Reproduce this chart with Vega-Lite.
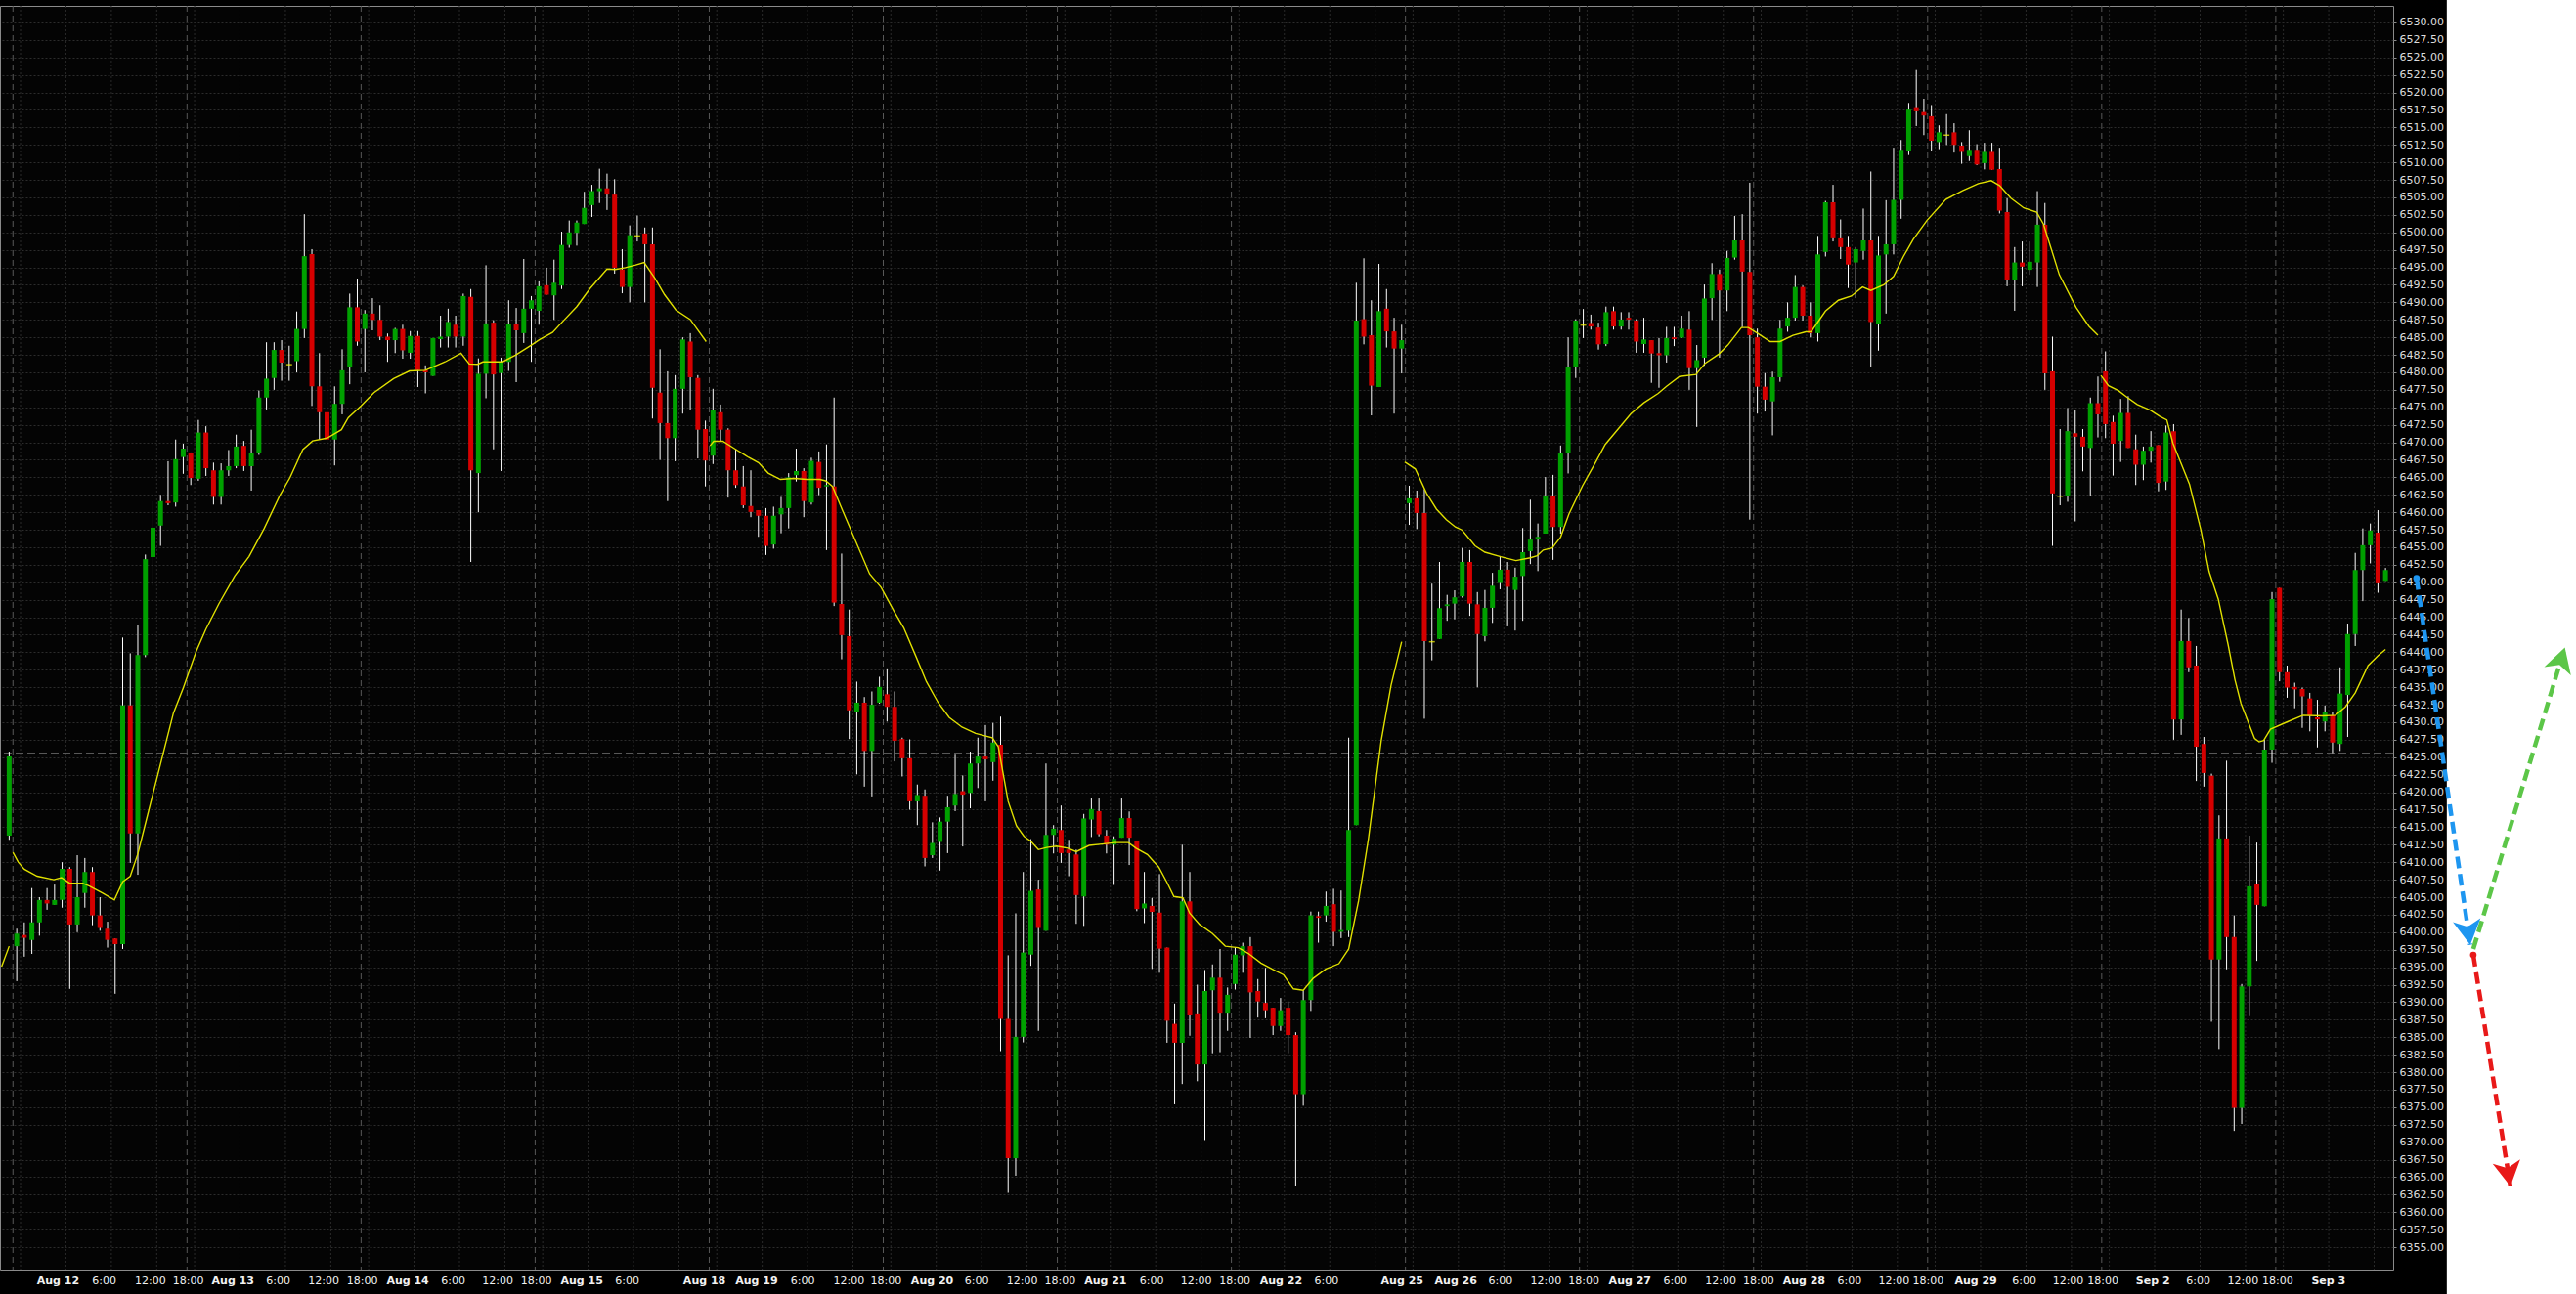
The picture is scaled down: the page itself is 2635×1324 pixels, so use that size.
{
"$schema": "https://vega.github.io/schema/vega-lite/v6.json",
"width": 2448, "height": 1293,
"autosize": {"type": "none"},
"padding": {"left": 0, "top": 6, "right": 187, "bottom": 25},
"background": "#000000",
"config": {"view": {"fill": "#040404", "stroke": "#8a8a8a", "strokeWidth": 1}, "axis": {"labelOverlap": false, "labelSeparation": 0}},
"datasets": {
"candles": [
{"i":0,"o":6413.8,"h":6425.8,"l":6413.2,"c":6425.1},
{"i":1,"o":6398.0,"h":6400.5,"l":6393.0,"c":6399.8},
{"i":2,"o":6399.6,"h":6401.4,"l":6396.5,"c":6399.2},
{"i":3,"o":6398.9,"h":6406.3,"l":6396.9,"c":6401.4},
{"i":4,"o":6401.4,"h":6405.0,"l":6399.5,"c":6404.6},
{"i":5,"o":6404.6,"h":6406.3,"l":6403.2,"c":6404.1},
{"i":6,"o":6403.9,"h":6406.8,"l":6403.9,"c":6404.6},
{"i":7,"o":6404.6,"h":6410.0,"l":6403.5,"c":6409.05},
{"i":8,"o":6409.05,"h":6409.3,"l":6391.9,"c":6401.1},
{"i":9,"o":6401.1,"h":6411.0,"l":6400.0,"c":6405.0},
{"i":10,"o":6405.6,"h":6410.6,"l":6403.5,"c":6408.6},
{"i":11,"o":6408.6,"h":6409.3,"l":6401.0,"c":6402.4},
{"i":12,"o":6402.4,"h":6405.0,"l":6400.2,"c":6400.6},
{"i":13,"o":6400.5,"h":6401.5,"l":6397.8,"c":6398.9},
{"i":14,"o":6399.1,"h":6399.1,"l":6391.2,"c":6398.3},
{"i":15,"o":6398.3,"h":6442.1,"l":6397.6,"c":6432.4},
{"i":16,"o":6432.4,"h":6439.85,"l":6409.9,"c":6414.1},
{"i":17,"o":6414.1,"h":6443.9,"l":6408.2,"c":6439.6},
{"i":18,"o":6439.6,"h":6453.96,"l":6439.3,"c":6453.3},
{"i":19,"o":6453.6,"h":6461.6,"l":6449.5,"c":6457.8},
{"i":20,"o":6458.1,"h":6462.5,"l":6455.2,"c":6461.6},
{"i":21,"o":6461.6,"h":6467.3,"l":6461.0,"c":6461.3},
{"i":22,"o":6461.4,"h":6470.4,"l":6460.8,"c":6467.6},
{"i":23,"o":6467.9,"h":6469.8,"l":6465.5,"c":6469.1},
{"i":24,"o":6468.55,"h":6468.55,"l":6463.9,"c":6464.9},
{"i":25,"o":6464.8,"h":6473.2,"l":6464.5,"c":6471.4},
{"i":26,"o":6471.4,"h":6472.3,"l":6465.2,"c":6466.3},
{"i":27,"o":6466.0,"h":6467.1,"l":6461.1,"c":6462.2},
{"i":28,"o":6462.2,"h":6467.0,"l":6461.1,"c":6466.0},
{"i":29,"o":6466.0,"h":6468.9,"l":6465.2,"c":6466.6},
{"i":30,"o":6466.6,"h":6471.1,"l":6466.3,"c":6469.4},
{"i":31,"o":6469.5,"h":6470.2,"l":6465.9,"c":6466.6},
{"i":32,"o":6466.6,"h":6471.8,"l":6463.1,"c":6468.55},
{"i":33,"o":6468.55,"h":6477.4,"l":6468.2,"c":6476.4},
{"i":34,"o":6476.4,"h":6484.3,"l":6474.7,"c":6479.1},
{"i":35,"o":6479.2,"h":6484.3,"l":6477.5,"c":6483.2},
{"i":36,"o":6483.2,"h":6484.6,"l":6478.8,"c":6481.4},
{"i":37,"o":6481.1,"h":6483.8,"l":6478.8,"c":6481.1},
{"i":38,"o":6481.6,"h":6488.7,"l":6480.0,"c":6486.2},
{"i":39,"o":6486.2,"h":6502.6,"l":6484.9,"c":6496.6},
{"i":40,"o":6496.9,"h":6497.6,"l":6475.2,"c":6478.0},
{"i":41,"o":6478.0,"h":6482.75,"l":6470.4,"c":6474.3},
{"i":42,"o":6474.3,"h":6479.3,"l":6466.7,"c":6470.4},
{"i":43,"o":6470.4,"h":6478.0,"l":6466.7,"c":6475.5},
{"i":44,"o":6475.5,"h":6483.3,"l":6474.0,"c":6480.3},
{"i":45,"o":6480.7,"h":6491.25,"l":6478.3,"c":6489.3},
{"i":46,"o":6489.3,"h":6493.4,"l":6483.8,"c":6484.4},
{"i":47,"o":6486.2,"h":6488.9,"l":6480.0,"c":6488.4},
{"i":48,"o":6488.4,"h":6490.6,"l":6486.0,"c":6487.5},
{"i":49,"o":6487.5,"h":6489.6,"l":6484.6,"c":6485.1},
{"i":50,"o":6485.1,"h":6485.55,"l":6481.5,"c":6484.6},
{"i":51,"o":6484.6,"h":6486.35,"l":6482.75,"c":6486.2},
{"i":52,"o":6486.2,"h":6486.8,"l":6481.95,"c":6483.15},
{"i":53,"o":6482.8,"h":6485.9,"l":6481.95,"c":6485.2},
{"i":54,"o":6485.2,"h":6485.9,"l":6477.9,"c":6480.3},
{"i":55,"o":6480.3,"h":6481.0,"l":6477.0,"c":6480.0},
{"i":56,"o":6479.5,"h":6484.9,"l":6479.5,"c":6484.9},
{"i":57,"o":6484.75,"h":6488.1,"l":6483.55,"c":6485.1},
{"i":58,"o":6485.1,"h":6489.1,"l":6483.55,"c":6487.2},
{"i":59,"o":6486.8,"h":6488.1,"l":6483.55,"c":6485.1},
{"i":60,"o":6485.1,"h":6491.25,"l":6483.8,"c":6490.9},
{"i":61,"o":6490.8,"h":6491.9,"l":6452.9,"c":6466.0},
{"i":62,"o":6465.6,"h":6482.0,"l":6460.0,"c":6479.8},
{"i":63,"o":6479.8,"h":6495.3,"l":6476.3,"c":6487.0},
{"i":64,"o":6487.1,"h":6487.45,"l":6469.0,"c":6479.7},
{"i":65,"o":6479.9,"h":6482.1,"l":6465.9,"c":6481.5},
{"i":66,"o":6481.5,"h":6490.3,"l":6480.2,"c":6486.9},
{"i":67,"o":6486.9,"h":6489.2,"l":6478.6,"c":6486.0},
{"i":68,"o":6485.6,"h":6496.2,"l":6484.2,"c":6489.1},
{"i":69,"o":6489.1,"h":6490.9,"l":6481.5,"c":6490.3},
{"i":70,"o":6488.8,"h":6493.0,"l":6486.8,"c":6492.3},
{"i":71,"o":6492.45,"h":6494.95,"l":6491.1,"c":6491.1},
{"i":72,"o":6491.0,"h":6496.1,"l":6487.5,"c":6492.8},
{"i":73,"o":6492.4,"h":6500.1,"l":6491.9,"c":6498.2},
{"i":74,"o":6498.2,"h":6501.7,"l":6497.8,"c":6500.0},
{"i":75,"o":6499.95,"h":6501.7,"l":6498.1,"c":6501.4},
{"i":76,"o":6501.2,"h":6505.8,"l":6501.2,"c":6503.5},
{"i":77,"o":6503.9,"h":6506.8,"l":6502.2,"c":6505.9},
{"i":78,"o":6505.9,"h":6509.1,"l":6504.2,"c":6506.3},
{"i":79,"o":6506.3,"h":6508.4,"l":6503.2,"c":6505.4},
{"i":80,"o":6505.4,"h":6507.6,"l":6494.1,"c":6494.95},
{"i":81,"o":6494.7,"h":6497.6,"l":6491.3,"c":6492.2},
{"i":82,"o":6492.2,"h":6501.0,"l":6490.0,"c":6499.6},
{"i":83,"o":6499.5,"h":6502.4,"l":6498.7,"c":6499.5},
{"i":84,"o":6499.85,"h":6500.7,"l":6490.0,"c":6498.3},
{"i":85,"o":6498.3,"h":6500.7,"l":6473.4,"c":6477.8},
{"i":86,"o":6477.1,"h":6483.3,"l":6467.5,"c":6472.75},
{"i":87,"o":6472.75,"h":6480.15,"l":6461.6,"c":6470.6},
{"i":88,"o":6470.6,"h":6479.6,"l":6467.3,"c":6477.65},
{"i":89,"o":6477.65,"h":6485.0,"l":6474.1,"c":6484.7},
{"i":90,"o":6484.4,"h":6485.6,"l":6474.6,"c":6479.3},
{"i":91,"o":6479.2,"h":6479.6,"l":6467.7,"c":6471.8},
{"i":92,"o":6471.9,"h":6473.1,"l":6463.7,"c":6467.4},
{"i":93,"o":6468.1,"h":6477.65,"l":6466.9,"c":6474.6},
{"i":94,"o":6474.3,"h":6475.4,"l":6470.2,"c":6471.8},
{"i":95,"o":6471.8,"h":6472.0,"l":6462.1,"c":6466.0},
{"i":96,"o":6466.0,"h":6469.0,"l":6463.5,"c":6463.9},
{"i":97,"o":6463.7,"h":6466.6,"l":6460.6,"c":6461.0},
{"i":98,"o":6460.9,"h":6466.0,"l":6459.3,"c":6460.05},
{"i":99,"o":6460.3,"h":6460.3,"l":6456.5,"c":6459.5},
{"i":100,"o":6459.5,"h":6460.6,"l":6453.9,"c":6455.2},
{"i":101,"o":6455.4,"h":6460.8,"l":6454.8,"c":6459.5},
{"i":102,"o":6459.7,"h":6462.2,"l":6457.0,"c":6460.6},
{"i":103,"o":6460.6,"h":6465.6,"l":6457.7,"c":6465.0},
{"i":104,"o":6465.3,"h":6469.1,"l":6464.4,"c":6465.9},
{"i":105,"o":6465.9,"h":6466.3,"l":6459.3,"c":6461.6},
{"i":106,"o":6461.4,"h":6467.8,"l":6461.1,"c":6467.35},
{"i":107,"o":6467.2,"h":6468.7,"l":6462.45,"c":6463.5},
{"i":108,"o":6463.7,"h":6469.7,"l":6454.6,"c":6463.9},
{"i":109,"o":6463.7,"h":6476.4,"l":6446.6,"c":6447.1},
{"i":110,"o":6446.9,"h":6454.1,"l":6439.0,"c":6442.45},
{"i":111,"o":6442.3,"h":6446.1,"l":6427.6,"c":6431.7},
{"i":112,"o":6431.5,"h":6435.8,"l":6422.55,"c":6432.8},
{"i":113,"o":6432.8,"h":6433.6,"l":6420.8,"c":6425.9},
{"i":114,"o":6425.9,"h":6434.4,"l":6419.4,"c":6432.5},
{"i":115,"o":6432.8,"h":6436.5,"l":6432.65,"c":6435.05},
{"i":116,"o":6434.0,"h":6437.7,"l":6430.1,"c":6432.2},
{"i":117,"o":6432.2,"h":6434.4,"l":6424.4,"c":6427.35},
{"i":118,"o":6427.6,"h":6427.8,"l":6422.25,"c":6424.85},
{"i":119,"o":6424.85,"h":6427.55,"l":6417.5,"c":6418.7},
{"i":120,"o":6418.7,"h":6421.1,"l":6415.3,"c":6419.6},
{"i":121,"o":6419.5,"h":6420.4,"l":6409.4,"c":6410.6},
{"i":122,"o":6411.0,"h":6415.7,"l":6410.6,"c":6412.75},
{"i":123,"o":6412.9,"h":6416.4,"l":6408.8,"c":6415.8},
{"i":124,"o":6415.8,"h":6419.5,"l":6411.3,"c":6417.85},
{"i":125,"o":6418.1,"h":6425.5,"l":6417.3,"c":6419.75},
{"i":126,"o":6420.15,"h":6422.4,"l":6412.25,"c":6419.65},
{"i":127,"o":6419.9,"h":6425.8,"l":6417.7,"c":6424.1},
{"i":128,"o":6424.1,"h":6427.8,"l":6420.6,"c":6425.1},
{"i":129,"o":6425.1,"h":6429.6,"l":6418.7,"c":6424.7},
{"i":130,"o":6424.3,"h":6429.9,"l":6421.65,"c":6427.1},
{"i":131,"o":6426.8,"h":6430.8,"l":6383.0,"c":6387.6},
{"i":132,"o":6387.6,"h":6396.7,"l":6362.75,"c":6367.7},
{"i":133,"o":6367.7,"h":6402.7,"l":6365.2,"c":6385.05},
{"i":134,"o":6385.05,"h":6408.6,"l":6384.25,"c":6397.1},
{"i":135,"o":6396.8,"h":6413.3,"l":6395.2,"c":6405.9},
{"i":136,"o":6406.1,"h":6407.5,"l":6385.9,"c":6400.6},
{"i":137,"o":6400.2,"h":6424.1,"l":6400.2,"c":6413.9},
{"i":138,"o":6413.9,"h":6415.3,"l":6411.25,"c":6414.8},
{"i":139,"o":6414.6,"h":6418.1,"l":6409.9,"c":6411.3},
{"i":140,"o":6411.8,"h":6413.2,"l":6408.0,"c":6411.3},
{"i":141,"o":6411.1,"h":6411.8,"l":6401.2,"c":6405.3},
{"i":142,"o":6405.1,"h":6416.9,"l":6400.9,"c":6416.25},
{"i":143,"o":6416.1,"h":6419.1,"l":6413.6,"c":6417.6},
{"i":144,"o":6417.3,"h":6419.1,"l":6413.7,"c":6414.0},
{"i":145,"o":6413.8,"h":6414.6,"l":6411.25,"c":6412.5},
{"i":146,"o":6412.5,"h":6413.7,"l":6406.75,"c":6413.35},
{"i":147,"o":6413.5,"h":6419.1,"l":6413.5,"c":6416.3},
{"i":148,"o":6416.3,"h":6417.25,"l":6409.6,"c":6413.5},
{"i":149,"o":6413.1,"h":6413.1,"l":6403.0,"c":6403.3},
{"i":150,"o":6403.4,"h":6408.6,"l":6401.3,"c":6404.1},
{"i":151,"o":6403.75,"h":6404.9,"l":6394.75,"c":6402.9},
{"i":152,"o":6402.8,"h":6408.3,"l":6394.2,"c":6397.65},
{"i":153,"o":6397.8,"h":6397.8,"l":6384.2,"c":6387.35},
{"i":154,"o":6386.9,"h":6389.8,"l":6375.4,"c":6384.2},
{"i":155,"o":6384.2,"h":6412.5,"l":6378.3,"c":6404.4},
{"i":156,"o":6404.4,"h":6408.6,"l":6385.2,"c":6388.1},
{"i":157,"o":6388.4,"h":6392.5,"l":6378.7,"c":6381.1},
{"i":158,"o":6381.1,"h":6394.6,"l":6370.3,"c":6391.6},
{"i":159,"o":6391.7,"h":6395.4,"l":6382.7,"c":6393.5},
{"i":160,"o":6393.5,"h":6397.6,"l":6382.85,"c":6388.5},
{"i":161,"o":6388.5,"h":6392.1,"l":6385.9,"c":6391.05},
{"i":162,"o":6392.6,"h":6397.8,"l":6391.8,"c":6396.8},
{"i":163,"o":6396.7,"h":6398.5,"l":6394.2,"c":6398.0},
{"i":164,"o":6398.0,"h":6399.3,"l":6384.9,"c":6391.4},
{"i":165,"o":6391.6,"h":6393.3,"l":6387.8,"c":6390.1},
{"i":166,"o":6389.9,"h":6394.9,"l":6387.7,"c":6388.85},
{"i":167,"o":6389.2,"h":6389.2,"l":6385.3,"c":6386.6},
{"i":168,"o":6386.6,"h":6390.6,"l":6385.9,"c":6388.85},
{"i":169,"o":6389.2,"h":6390.1,"l":6382.7,"c":6385.3},
{"i":170,"o":6385.3,"h":6385.7,"l":6363.8,"c":6376.85},
{"i":171,"o":6376.85,"h":6391.7,"l":6375.2,"c":6390.3},
{"i":172,"o":6390.3,"h":6402.95,"l":6388.75,"c":6402.4},
{"i":173,"o":6402.3,"h":6402.95,"l":6398.5,"c":6402.05},
{"i":174,"o":6402.4,"h":6405.8,"l":6401.5,"c":6403.75},
{"i":175,"o":6404.0,"h":6406.2,"l":6398.0,"c":6400.05},
{"i":176,"o":6400.05,"h":6405.95,"l":6399.15,"c":6400.3},
{"i":177,"o":6400.2,"h":6427.8,"l":6399.3,"c":6414.6},
{"i":178,"o":6415.3,"h":6492.8,"l":6415.3,"c":6487.4},
{"i":179,"o":6487.6,"h":6496.3,"l":6484.0,"c":6485.1},
{"i":180,"o":6485.3,"h":6490.3,"l":6473.85,"c":6478.1},
{"i":181,"o":6477.9,"h":6495.5,"l":6477.9,"c":6488.75},
{"i":182,"o":6489.1,"h":6491.9,"l":6483.55,"c":6485.85},
{"i":183,"o":6485.85,"h":6487.8,"l":6474.1,"c":6483.4},
{"i":184,"o":6483.4,"h":6486.8,"l":6479.85,"c":6484.6},
{"i":185,"o":6461.3,"h":6463.8,"l":6458.2,"c":6462.0},
{"i":186,"o":6462.0,"h":6463.1,"l":6457.6,"c":6459.9},
{"i":187,"o":6459.9,"h":6463.3,"l":6430.5,"c":6441.6},
{"i":188,"o":6441.5,"h":6449.8,"l":6438.85,"c":6441.5},
{"i":189,"o":6441.9,"h":6452.9,"l":6441.9,"c":6446.3},
{"i":190,"o":6446.6,"h":6448.2,"l":6444.5,"c":6446.85},
{"i":191,"o":6446.95,"h":6448.85,"l":6444.7,"c":6447.85},
{"i":192,"o":6448.0,"h":6454.9,"l":6447.8,"c":6452.9},
{"i":193,"o":6452.9,"h":6454.6,"l":6445.2,"c":6446.95},
{"i":194,"o":6446.85,"h":6448.6,"l":6435.0,"c":6442.6},
{"i":195,"o":6442.3,"h":6448.9,"l":6441.55,"c":6446.35},
{"i":196,"o":6446.35,"h":6451.35,"l":6444.2,"c":6449.5},
{"i":197,"o":6449.9,"h":6453.7,"l":6449.0,"c":6451.8},
{"i":198,"o":6451.8,"h":6452.9,"l":6443.7,"c":6449.35},
{"i":199,"o":6448.9,"h":6452.1,"l":6443.1,"c":6450.8},
{"i":200,"o":6450.9,"h":6457.75,"l":6444.5,"c":6454.3},
{"i":201,"o":6454.45,"h":6461.8,"l":6452.6,"c":6456.1},
{"i":202,"o":6456.1,"h":6458.4,"l":6451.6,"c":6456.5},
{"i":203,"o":6456.95,"h":6465.05,"l":6456.95,"c":6462.4},
{"i":204,"o":6462.4,"h":6465.35,"l":6453.2,"c":6457.9},
{"i":205,"o":6457.9,"h":6469.55,"l":6456.95,"c":6468.4},
{"i":206,"o":6468.4,"h":6485.0,"l":6465.55,"c":6480.8},
{"i":207,"o":6480.8,"h":6487.6,"l":6479.2,"c":6487.4},
{"i":208,"o":6486.75,"h":6489.05,"l":6484.9,"c":6486.75},
{"i":209,"o":6487.05,"h":6488.25,"l":6486.1,"c":6486.55},
{"i":210,"o":6486.4,"h":6487.1,"l":6483.25,"c":6484.0},
{"i":211,"o":6484.05,"h":6489.4,"l":6483.75,"c":6488.6},
{"i":212,"o":6488.75,"h":6489.4,"l":6486.1,"c":6486.55},
{"i":213,"o":6486.55,"h":6488.6,"l":6486.1,"c":6487.55},
{"i":214,"o":6487.8,"h":6488.6,"l":6486.1,"c":6487.55},
{"i":215,"o":6487.4,"h":6487.6,"l":6482.8,"c":6484.4},
{"i":216,"o":6484.05,"h":6487.8,"l":6482.8,"c":6484.7},
{"i":217,"o":6484.6,"h":6484.6,"l":6478.5,"c":6482.7},
{"i":218,"o":6482.75,"h":6484.9,"l":6477.8,"c":6482.45},
{"i":219,"o":6482.45,"h":6486.5,"l":6481.4,"c":6484.9},
{"i":220,"o":6485.0,"h":6486.5,"l":6483.75,"c":6484.75},
{"i":221,"o":6484.95,"h":6488.1,"l":6484.9,"c":6486.25},
{"i":222,"o":6486.1,"h":6488.75,"l":6477.5,"c":6480.6},
{"i":223,"o":6480.6,"h":6483.9,"l":6472.2,"c":6481.75},
{"i":224,"o":6482.1,"h":6492.55,"l":6480.95,"c":6490.55},
{"i":225,"o":6490.6,"h":6495.6,"l":6487.5,"c":6494.05},
{"i":226,"o":6494.05,"h":6494.7,"l":6482.1,"c":6491.7},
{"i":227,"o":6491.7,"h":6497.35,"l":6488.75,"c":6496.35},
{"i":228,"o":6496.4,"h":6502.35,"l":6496.1,"c":6498.85},
{"i":229,"o":6498.85,"h":6502.6,"l":6486.45,"c":6494.4},
{"i":230,"o":6494.35,"h":6507.1,"l":6458.95,"c":6485.3},
{"i":231,"o":6485.0,"h":6486.25,"l":6474.1,"c":6477.95},
{"i":232,"o":6477.95,"h":6479.9,"l":6474.4,"c":6476.1},
{"i":233,"o":6475.85,"h":6480.1,"l":6471.0,"c":6479.3},
{"i":234,"o":6479.3,"h":6487.5,"l":6478.65,"c":6486.25},
{"i":235,"o":6486.55,"h":6490.0,"l":6485.8,"c":6487.8},
{"i":236,"o":6487.8,"h":6493.9,"l":6487.4,"c":6492.2},
{"i":237,"o":6492.2,"h":6492.4,"l":6487.4,"c":6488.1},
{"i":238,"o":6488.1,"h":6490.0,"l":6485.0,"c":6485.6},
{"i":239,"o":6485.6,"h":6499.5,"l":6484.4,"c":6496.85},
{"i":240,"o":6497.2,"h":6504.5,"l":6496.55,"c":6504.3},
{"i":241,"o":6504.3,"h":6506.8,"l":6498.7,"c":6499.15},
{"i":242,"o":6499.15,"h":6501.85,"l":6496.2,"c":6497.9},
{"i":243,"o":6497.9,"h":6499.5,"l":6492.05,"c":6495.4},
{"i":244,"o":6495.7,"h":6497.9,"l":6490.6,"c":6497.6},
{"i":245,"o":6497.35,"h":6503.4,"l":6496.1,"c":6498.85},
{"i":246,"o":6498.85,"h":6508.7,"l":6480.8,"c":6487.2},
{"i":247,"o":6486.9,"h":6499.5,"l":6483.1,"c":6496.7},
{"i":248,"o":6496.85,"h":6504.6,"l":6488.4,"c":6498.3},
{"i":249,"o":6498.3,"h":6512.1,"l":6496.85,"c":6504.65},
{"i":250,"o":6504.65,"h":6513.2,"l":6501.95,"c":6511.8},
{"i":251,"o":6511.6,"h":6518.5,"l":6511.05,"c":6517.55},
{"i":252,"o":6517.9,"h":6523.2,"l":6515.2,"c":6517.3},
{"i":253,"o":6517.2,"h":6519.1,"l":6513.9,"c":6516.7},
{"i":254,"o":6516.6,"h":6518.2,"l":6511.6,"c":6513.1},
{"i":255,"o":6512.9,"h":6515.3,"l":6511.9,"c":6514.3},
{"i":256,"o":6513.9,"h":6516.9,"l":6512.5,"c":6513.9},
{"i":257,"o":6514.3,"h":6515.6,"l":6511.4,"c":6512.5},
{"i":258,"o":6512.4,"h":6512.9,"l":6509.8,"c":6511.5},
{"i":259,"o":6510.9,"h":6514.6,"l":6510.2,"c":6511.8},
{"i":260,"o":6511.8,"h":6512.6,"l":6509.6,"c":6509.7},
{"i":261,"o":6509.9,"h":6512.8,"l":6509.0,"c":6511.5},
{"i":262,"o":6511.5,"h":6512.8,"l":6508.95,"c":6508.95},
{"i":263,"o":6509.05,"h":6512.1,"l":6502.7,"c":6503.1},
{"i":264,"o":6502.9,"h":6504.9,"l":6492.3,"c":6493.2},
{"i":265,"o":6493.2,"h":6497.9,"l":6488.8,"c":6495.7},
{"i":266,"o":6495.7,"h":6498.7,"l":6492.3,"c":6495.1},
{"i":267,"o":6494.65,"h":6498.7,"l":6493.95,"c":6495.8},
{"i":268,"o":6495.7,"h":6505.9,"l":6492.2,"c":6501.1},
{"i":269,"o":6501.1,"h":6504.2,"l":6477.5,"c":6479.85},
{"i":270,"o":6480.15,"h":6485.1,"l":6455.2,"c":6462.7},
{"i":271,"o":6462.3,"h":6471.9,"l":6461.0,"c":6462.3},
{"i":272,"o":6462.3,"h":6474.9,"l":6461.5,"c":6471.6},
{"i":273,"o":6471.3,"h":6474.6,"l":6458.7,"c":6470.8},
{"i":274,"o":6470.8,"h":6471.9,"l":6465.85,"c":6469.4},
{"i":275,"o":6469.2,"h":6476.4,"l":6462.4,"c":6475.6},
{"i":276,"o":6475.6,"h":6479.4,"l":6470.7,"c":6474.0},
{"i":277,"o":6480.15,"h":6483.0,"l":6470.6,"c":6472.6},
{"i":278,"o":6472.9,"h":6473.8,"l":6465.25,"c":6469.8},
{"i":279,"o":6470.2,"h":6476.2,"l":6467.2,"c":6474.2},
{"i":280,"o":6474.2,"h":6476.6,"l":6469.2,"c":6469.2},
{"i":281,"o":6469.0,"h":6471.1,"l":6463.9,"c":6466.8},
{"i":282,"o":6466.8,"h":6469.4,"l":6464.6,"c":6468.8},
{"i":283,"o":6468.8,"h":6471.6,"l":6467.1,"c":6469.4},
{"i":284,"o":6469.6,"h":6469.6,"l":6463.0,"c":6464.2},
{"i":285,"o":6464.4,"h":6472.4,"l":6463.2,"c":6471.4},
{"i":286,"o":6471.6,"h":6472.6,"l":6427.5,"c":6430.4},
{"i":287,"o":6430.4,"h":6446.1,"l":6428.2,"c":6441.6},
{"i":288,"o":6441.6,"h":6444.9,"l":6437.15,"c":6437.85},
{"i":289,"o":6438.1,"h":6440.9,"l":6421.6,"c":6426.5},
{"i":290,"o":6426.9,"h":6427.9,"l":6420.8,"c":6422.75},
{"i":291,"o":6422.35,"h":6422.65,"l":6387.2,"c":6396.1},
{"i":292,"o":6396.1,"h":6416.7,"l":6383.3,"c":6413.4},
{"i":293,"o":6413.4,"h":6424.5,"l":6394.7,"c":6399.3},
{"i":294,"o":6399.3,"h":6402.4,"l":6371.6,"c":6374.9},
{"i":295,"o":6374.9,"h":6392.6,"l":6372.6,"c":6392.25},
{"i":296,"o":6392.25,"h":6413.8,"l":6388.0,"c":6406.55},
{"i":297,"o":6406.85,"h":6412.8,"l":6395.9,"c":6403.9},
{"i":298,"o":6403.7,"h":6427.5,"l":6403.7,"c":6426.1},
{"i":299,"o":6426.1,"h":6448.6,"l":6424.2,"c":6447.6},
{"i":300,"o":6449.2,"h":6449.2,"l":6435.85,"c":6437.15},
{"i":301,"o":6437.15,"h":6438.1,"l":6433.5,"c":6434.95},
{"i":302,"o":6435.05,"h":6435.65,"l":6432.0,"c":6434.7},
{"i":303,"o":6434.75,"h":6434.95,"l":6429.2,"c":6433.7},
{"i":304,"o":6433.4,"h":6434.2,"l":6428.7,"c":6430.9},
{"i":305,"o":6430.7,"h":6433.2,"l":6426.4,"c":6430.4},
{"i":306,"o":6430.1,"h":6432.4,"l":6428.7,"c":6431.4},
{"i":307,"o":6431.0,"h":6431.4,"l":6425.6,"c":6427.1},
{"i":308,"o":6426.9,"h":6437.85,"l":6425.9,"c":6434.1},
{"i":309,"o":6433.9,"h":6444.1,"l":6427.9,"c":6442.6},
{"i":310,"o":6442.6,"h":6454.2,"l":6440.9,"c":6451.75},
{"i":311,"o":6451.75,"h":6457.7,"l":6447.3,"c":6455.3},
{"i":312,"o":6455.3,"h":6458.4,"l":6452.7,"c":6457.4},
{"i":313,"o":6457.1,"h":6460.3,"l":6448.5,"c":6449.85},
{"i":314,"o":6450.2,"h":6452.05,"l":6450.2,"c":6451.75}
],
"ma": [
{"s":"A","i":-1,"v":6395.1},{"s":"A","i":0,"v":6398.0},
{"s":"B","i":0.5,"v":6411.4},{"s":"B","i":1.2,"v":6410.0},{"s":"B","i":2.0,"v":6409.0},{"s":"B","i":3.7,"v":6408.0},{"s":"B","i":5.9,"v":6407.5},{"s":"B","i":6.9,"v":6407.8},{"s":"B","i":8.0,"v":6407.0},{"s":"B","i":9.7,"v":6407.0},{"s":"B","i":10.6,"v":6406.6},{"s":"B","i":12.3,"v":6405.6},{"s":"B","i":13.9,"v":6404.6},{"s":"B","i":15.0,"v":6407.2},{"s":"B","i":16.0,"v":6408.0},{"s":"B","i":17.0,"v":6411.2},{"s":"B","i":18.3,"v":6416.8},{"s":"B","i":20.0,"v":6424.05},{"s":"B","i":21.7,"v":6431.3},{"s":"B","i":23.0,"v":6434.9},{"s":"B","i":24.7,"v":6440.1},{"s":"B","i":26.0,"v":6443.3},{"s":"B","i":27.7,"v":6446.9},{"s":"B","i":29.8,"v":6450.9},{"s":"B","i":31.7,"v":6453.7},{"s":"B","i":33.7,"v":6457.7},{"s":"B","i":35.8,"v":6462.5},{"s":"B","i":37.1,"v":6464.95},{"s":"B","i":38.8,"v":6468.96},{"s":"B","i":40.1,"v":6470.2},{"s":"B","i":42.0,"v":6470.6},{"s":"B","i":43.9,"v":6471.8},{"s":"B","i":44.8,"v":6473.5},{"s":"B","i":46.5,"v":6475.2},{"s":"B","i":48.2,"v":6477.1},{"s":"B","i":50.8,"v":6479.1},{"s":"B","i":52.9,"v":6480.2},{"s":"B","i":55.0,"v":6480.3},{"s":"B","i":57.6,"v":6481.5},{"s":"B","i":59.7,"v":6482.75},{"s":"B","i":60.8,"v":6481.2},{"s":"B","i":61.9,"v":6481.15},{"s":"B","i":62.6,"v":6481.5},{"s":"B","i":65.2,"v":6481.5},{"s":"B","i":66.9,"v":6482.45},{"s":"B","i":69.0,"v":6483.9},{"s":"B","i":70.1,"v":6484.7},{"s":"B","i":71.8,"v":6485.7},{"s":"B","i":73.3,"v":6487.45},{"s":"B","i":75.0,"v":6489.4},{"s":"B","i":76.7,"v":6491.9},{"s":"B","i":79.0,"v":6494.76},{"s":"B","i":80.1,"v":6494.7},{"s":"B","i":81.4,"v":6494.95},{"s":"B","i":82.7,"v":6495.3},{"s":"B","i":83.9,"v":6495.7},{"s":"B","i":85.3,"v":6493.5},{"s":"B","i":86.6,"v":6491.1},{"s":"B","i":88.1,"v":6488.9},{"s":"B","i":90.0,"v":6487.55},{"s":"B","i":92.1,"v":6484.4},
{"s":"C","i":92.6,"v":6469.5},{"s":"C","i":93.1,"v":6470.15},{"s":"C","i":94.3,"v":6470.15},{"s":"C","i":96.0,"v":6469.0},{"s":"C","i":97.7,"v":6467.85},{"s":"C","i":99.0,"v":6467.1},{"s":"C","i":100.3,"v":6465.6},{"s":"C","i":101.9,"v":6464.7},{"s":"C","i":103.7,"v":6464.85},{"s":"C","i":105.4,"v":6464.7},{"s":"C","i":107.1,"v":6464.7},{"s":"C","i":107.9,"v":6464.5},{"s":"C","i":108.8,"v":6463.7},{"s":"C","i":110.1,"v":6460.3},{"s":"C","i":111.8,"v":6456.0},{"s":"C","i":113.7,"v":6451.2},{"s":"C","i":115.2,"v":6449.3},{"s":"C","i":116.9,"v":6445.9},{"s":"C","i":118.2,"v":6443.5},{"s":"C","i":119.9,"v":6439.2},{"s":"C","i":121.2,"v":6435.8},{"s":"C","i":122.7,"v":6432.9},{"s":"C","i":124.2,"v":6430.7},{"s":"C","i":125.9,"v":6429.3},{"s":"C","i":127.7,"v":6428.4},{"s":"C","i":129.9,"v":6427.8},{"s":"C","i":130.7,"v":6426.5},{"s":"C","i":132.0,"v":6418.7},{"s":"C","i":133.1,"v":6415.2},{"s":"C","i":134.1,"v":6413.7},{"s":"C","i":135.0,"v":6413.0},{"s":"C","i":136.0,"v":6411.8},{"s":"C","i":137.1,"v":6412.1},{"s":"C","i":138.4,"v":6412.3},{"s":"C","i":139.9,"v":6412.0},{"s":"C","i":141.0,"v":6411.5},{"s":"C","i":142.7,"v":6412.4},{"s":"C","i":144.4,"v":6412.6},{"s":"C","i":146.1,"v":6412.8},{"s":"C","i":147.9,"v":6412.8},{"s":"C","i":148.9,"v":6412.0},{"s":"C","i":150.4,"v":6411.1},{"s":"C","i":151.9,"v":6409.3},{"s":"C","i":153.0,"v":6407.1},{"s":"C","i":153.9,"v":6405.1},{"s":"C","i":155.1,"v":6404.9},{"s":"C","i":156.0,"v":6402.7},{"s":"C","i":157.3,"v":6401.1},{"s":"C","i":159.0,"v":6399.8},{"s":"C","i":160.7,"v":6398.0},{"s":"C","i":162.4,"v":6397.8},{"s":"C","i":163.7,"v":6397.0},{"s":"C","i":165.4,"v":6395.6},{"s":"C","i":167.1,"v":6394.6},{"s":"C","i":168.4,"v":6393.9},{"s":"C","i":169.7,"v":6391.9},{"s":"C","i":171.0,"v":6391.7},{"s":"C","i":172.3,"v":6393.4},{"s":"C","i":174.0,"v":6394.75},{"s":"C","i":175.7,"v":6395.5},{"s":"C","i":177.0,"v":6397.6},{"s":"C","i":178.3,"v":6404.45},{"s":"C","i":179.6,"v":6413.3},{"s":"C","i":181.3,"v":6427.4},{"s":"C","i":182.6,"v":6435.3},{"s":"C","i":184.0,"v":6441.5},
{"s":"D","i":184.4,"v":6467.2},{"s":"D","i":185.8,"v":6466.2},{"s":"D","i":187.3,"v":6462.7},{"s":"D","i":188.6,"v":6460.45},{"s":"D","i":189.9,"v":6458.95},{"s":"D","i":191.1,"v":6457.9},{"s":"D","i":192.0,"v":6457.45},{"s":"D","i":193.7,"v":6455.2},{"s":"D","i":195.0,"v":6454.3},{"s":"D","i":197.1,"v":6453.65},{"s":"D","i":199.1,"v":6453.1},{"s":"D","i":201.0,"v":6453.5},{"s":"D","i":201.9,"v":6453.8},{"s":"D","i":202.7,"v":6454.6},{"s":"D","i":203.9,"v":6454.9},{"s":"D","i":205.0,"v":6456.45},{"s":"D","i":206.1,"v":6459.75},{"s":"D","i":207.9,"v":6463.8},{"s":"D","i":209.6,"v":6467.1},{"s":"D","i":210.9,"v":6469.7},{"s":"D","i":212.6,"v":6471.9},{"s":"D","i":214.3,"v":6474.1},{"s":"D","i":216.0,"v":6475.65},{"s":"D","i":217.9,"v":6477.0},{"s":"D","i":219.0,"v":6478.0},{"s":"D","i":220.7,"v":6479.4},{"s":"D","i":222.9,"v":6479.7},{"s":"D","i":224.1,"v":6481.3},{"s":"D","i":225.9,"v":6482.6},{"s":"D","i":227.1,"v":6483.9},{"s":"D","i":228.9,"v":6486.4},{"s":"D","i":229.8,"v":6486.4},{"s":"D","i":231.0,"v":6485.6},{"s":"D","i":232.7,"v":6484.4},{"s":"D","i":234.0,"v":6484.4},{"s":"D","i":235.7,"v":6485.3},{"s":"D","i":237.4,"v":6485.8},{"s":"D","i":238.1,"v":6485.8},{"s":"D","i":240.0,"v":6488.75},{"s":"D","i":241.7,"v":6490.3},{"s":"D","i":243.4,"v":6490.9},{"s":"D","i":244.9,"v":6492.2},{"s":"D","i":246.0,"v":6491.7},{"s":"D","i":247.7,"v":6492.5},{"s":"D","i":249.0,"v":6493.7},{"s":"D","i":250.3,"v":6496.55},{"s":"D","i":251.6,"v":6499.0},{"s":"D","i":253.4,"v":6501.7},{"s":"D","i":255.9,"v":6504.7},{"s":"D","i":258.1,"v":6505.97},{"s":"D","i":260.2,"v":6506.96},{"s":"D","i":261.9,"v":6507.4},{"s":"D","i":263.0,"v":6506.7},{"s":"D","i":264.5,"v":6504.9},{"s":"D","i":266.2,"v":6503.5},{"s":"D","i":267.9,"v":6502.9},{"s":"D","i":268.8,"v":6501.2},{"s":"D","i":270.9,"v":6493.95},{"s":"D","i":273.1,"v":6489.3},{"s":"D","i":274.8,"v":6486.6},{"s":"D","i":276.0,"v":6485.3},
{"s":"E","i":276.4,"v":6479.55},{"s":"E","i":277.4,"v":6478.1},{"s":"E","i":278.7,"v":6477.4},{"s":"E","i":279.9,"v":6476.4},{"s":"E","i":281.2,"v":6475.4},{"s":"E","i":282.9,"v":6474.6},{"s":"E","i":284.2,"v":6473.7},{"s":"E","i":285.1,"v":6473.2},{"s":"E","i":285.9,"v":6469.9},{"s":"E","i":288.1,"v":6464.0},{"s":"E","i":289.6,"v":6457.5},{"s":"E","i":290.7,"v":6451.5},{"s":"E","i":291.9,"v":6447.6},{"s":"E","i":293.2,"v":6441.1},{"s":"E","i":294.1,"v":6436.1},{"s":"E","i":294.9,"v":6432.7},{"s":"E","i":296.7,"v":6427.7},{"s":"E","i":297.3,"v":6427.2},{"s":"E","i":297.9,"v":6427.4},{"s":"E","i":298.8,"v":6429.0},{"s":"E","i":300.9,"v":6430.0},{"s":"E","i":303.1,"v":6431.0},{"s":"E","i":305.7,"v":6430.9},{"s":"E","i":307.4,"v":6431.0},{"s":"E","i":308.7,"v":6432.2},{"s":"E","i":310.0,"v":6434.2},{"s":"E","i":311.7,"v":6438.1},{"s":"E","i":313.0,"v":6439.5},{"s":"E","i":314.0,"v":6440.4}
],
"grid": [
{"i":0.5,"k":"m"},{"i":23.5,"k":"m"},{"i":46.5,"k":"m"},{"i":69.5,"k":"m"},{"i":92.5,"k":"m"},{"i":115.5,"k":"m"},{"i":138.5,"k":"m"},{"i":161.5,"k":"m"},{"i":184.5,"k":"m"},{"i":207.5,"k":"m"},{"i":230.5,"k":"m"},{"i":253.5,"k":"m"},{"i":276.5,"k":"m"},{"i":299.5,"k":"m"},
{"i":1.5,"k":"n"},{"i":7.5,"k":"n"},{"i":13.5,"k":"n"},{"i":19.5,"k":"n"},
{"i":24.5,"k":"n"},{"i":30.5,"k":"n"},{"i":36.5,"k":"n"},{"i":42.5,"k":"n"},
{"i":47.5,"k":"n"},{"i":53.5,"k":"n"},{"i":59.5,"k":"n"},{"i":65.5,"k":"n"},
{"i":70.5,"k":"n"},{"i":76.5,"k":"n"},{"i":82.5,"k":"n"},{"i":88.5,"k":"n"},
{"i":93.5,"k":"n"},{"i":99.5,"k":"n"},{"i":105.5,"k":"n"},{"i":111.5,"k":"n"},
{"i":116.5,"k":"n"},{"i":122.5,"k":"n"},{"i":128.5,"k":"n"},{"i":134.5,"k":"n"},
{"i":139.5,"k":"n"},{"i":145.5,"k":"n"},{"i":151.5,"k":"n"},{"i":157.5,"k":"n"},
{"i":162.5,"k":"n"},{"i":168.5,"k":"n"},{"i":174.5,"k":"n"},{"i":180.5,"k":"n"},
{"i":185.5,"k":"n"},{"i":191.5,"k":"n"},{"i":197.5,"k":"n"},{"i":203.5,"k":"n"},
{"i":208.5,"k":"n"},{"i":214.5,"k":"n"},{"i":220.5,"k":"n"},{"i":226.5,"k":"n"},
{"i":231.5,"k":"n"},{"i":237.5,"k":"n"},{"i":243.5,"k":"n"},{"i":249.5,"k":"n"},
{"i":254.5,"k":"n"},{"i":260.5,"k":"n"},{"i":266.5,"k":"n"},{"i":272.5,"k":"n"},
{"i":277.5,"k":"n"},{"i":283.5,"k":"n"},{"i":289.5,"k":"n"},{"i":295.5,"k":"n"},
{"i":300.5,"k":"n"},{"i":306.5,"k":"n"},{"i":312.5,"k":"n"}
],
"arrows": [
{"a":"blue","p":"start","i":318.1,"v":6450.6},{"a":"blue","p":"end","i":325.2,"v":6398.2},
{"a":"green","p":"start","i":325.6,"v":6397.6},{"a":"green","p":"end","i":337.7,"v":6440.7},
{"a":"red","p":"start","i":325.6,"v":6396.75},{"a":"red","p":"end","i":330.5,"v":6363.7}
]
},
"layer": [
{"data": {"name": "grid"}, "transform": [{"filter": "datum.k == 'n'"}],
 "mark": {"type": "rule", "color": "#2a2a2a", "strokeDash": [2, 2], "strokeWidth": 1},
 "encoding": {"x": {"field": "i", "type": "quantitative", "title": null, "scale": {"domain": [-0.567, 314.37], "nice": false, "zero": false},
   "axis": {"orient": "bottom", "title": null, "grid": false, "ticks": false, "domain": false, "tickCount": 500,
    "values": [6.4,12.5,18.6,23.6,29.5,35.5,41.5,46.6,52.6,58.6,64.5,69.6,75.6,81.6,91.8,98.7,104.8,110.9,115.8,121.9,127.8,133.8,138.8,144.8,150.9,156.8,161.9,168,174,184,191.1,197,203,208,214.1,220.1,226.1,231.1,237.1,243.1,249,253.5,259.8,266.2,272,276.6,283.2,289.2,295.1,299.7,306.4],
    "labelExpr": "['Aug 12','6:00','12:00','18:00','Aug 13','6:00','12:00','18:00','Aug 14','6:00','12:00','18:00','Aug 15','6:00','Aug 18','Aug 19','6:00','12:00','18:00','Aug 20','6:00','12:00','18:00','Aug 21','6:00','12:00','18:00','Aug 22','6:00','Aug 25','Aug 26','6:00','12:00','18:00','Aug 27','6:00','12:00','18:00','Aug 28','6:00','12:00','18:00','Aug 29','6:00','12:00','18:00','Sep 2','6:00','12:00','18:00','Sep 3'][indexof([6.4,12.5,18.6,23.6,29.5,35.5,41.5,46.6,52.6,58.6,64.5,69.6,75.6,81.6,91.8,98.7,104.8,110.9,115.8,121.9,127.8,133.8,138.8,144.8,150.9,156.8,161.9,168,174,184,191.1,197,203,208,214.1,220.1,226.1,231.1,237.1,243.1,249,253.5,259.8,266.2,272,276.6,283.2,289.2,295.1,299.7,306.4], datum.value)]",
    "labelFontWeight": {"condition": {"test": "indexof([6.4,29.5,52.6,75.6,91.8,98.7,121.9,144.8,168,184,191.1,214.1,237.1,259.8,283.2,306.4], datum.value) >= 0", "value": "bold"}, "value": "normal"},
    "labelFont": "DejaVu Sans", "labelFontSize": 11, "labelColor": "#f2f2f2", "labelPadding": 5,
    "labelAlign": "center", "labelBaseline": "top", "labelOverlap": false, "labelBound": false, "labelFlush": false}}}},
{"data": {"name": "grid"}, "transform": [{"filter": "datum.k == 'm'"}],
 "mark": {"type": "rule", "color": "#585858", "strokeDash": [6, 4], "strokeWidth": 1},
 "encoding": {"x": {"field": "i", "type": "quantitative", "title": null, "scale": {"domain": [-0.567, 314.37], "nice": false, "zero": false}, "axis": {"title": null}}}},
{"data": {"values": [{}]},
 "mark": {"type": "rule", "color": "#585858", "strokeDash": [8, 4], "strokeWidth": 1},
 "encoding": {"y": {"datum": 6425.6, "type": "quantitative", "title": null, "scale": {"domain": [6351.79, 6532.37], "nice": false, "zero": false},
   "axis": {"orient": "right", "title": null, "domain": false, "grid": true, "gridColor": "#2c2c2c", "gridDash": [2, 2], "gridWidth": 1, "tickCount": 500,
    "values": [6355,6357.5,6360,6362.5,6365,6367.5,6370,6372.5,6375,6377.5,6380,6382.5,6385,6387.5,6390,6392.5,6395,6397.5,6400,6402.5,6405,6407.5,6410,6412.5,6415,6417.5,6420,6422.5,6425,6427.5,6430,6432.5,6435,6437.5,6440,6442.5,6445,6447.5,6450,6452.5,6455,6457.5,6460,6462.5,6465,6467.5,6470,6472.5,6475,6477.5,6480,6482.5,6485,6487.5,6490,6492.5,6495,6497.5,6500,6502.5,6505,6507.5,6510,6512.5,6515,6517.5,6520,6522.5,6525,6527.5,6530],
    "format": ".2f", "labelFont": "DejaVu Sans", "labelFontSize": 11, "labelColor": "#dcdcdc",
    "tickColor": "#8a8a8a", "tickSize": 3, "labelPadding": 3, "labelOverlap": false, "labelBound": false, "labelFlush": false, "labelBaseline": "middle"}}}},
{"data": {"name": "candles"},
 "mark": {"type": "rule", "color": "#ffffff", "strokeWidth": 1},
 "encoding": {
  "x": {"field": "i", "type": "quantitative", "title": null, "scale": {"domain": [-0.567, 314.37], "nice": false, "zero": false}, "axis": {"title": null}},
  "y": {"field": "l", "type": "quantitative", "title": null, "scale": {"domain": [6351.79, 6532.37], "nice": false, "zero": false}, "axis": {"title": null}},
  "y2": {"field": "h"}}},
{"data": {"name": "candles"}, "transform": [{"filter": "datum.o != datum.c"}],
 "mark": {"type": "bar", "size": 5},
 "encoding": {
  "x": {"field": "i", "type": "quantitative", "title": null, "scale": {"domain": [-0.567, 314.37], "nice": false, "zero": false}, "axis": {"title": null}},
  "y": {"field": "o", "type": "quantitative", "title": null, "scale": {"domain": [6351.79, 6532.37], "nice": false, "zero": false}, "axis": {"title": null}},
  "y2": {"field": "c"},
  "color": {"condition": {"test": "datum.c > datum.o", "value": "#00a000"}, "value": "#d50000"}}},
{"data": {"name": "candles"}, "transform": [{"filter": "datum.o == datum.c"}],
 "mark": {"type": "tick", "orient": "horizontal", "size": 6, "thickness": 1.5, "color": "#ffff00"},
 "encoding": {
  "x": {"field": "i", "type": "quantitative", "title": null, "scale": {"domain": [-0.567, 314.37], "nice": false, "zero": false}, "axis": {"title": null}},
  "y": {"field": "o", "type": "quantitative", "title": null, "scale": {"domain": [6351.79, 6532.37], "nice": false, "zero": false}, "axis": {"title": null}}}},
{"data": {"name": "ma"},
 "mark": {"type": "line", "color": "#e0e000", "strokeWidth": 1.4, "clip": true},
 "encoding": {
  "x": {"field": "i", "type": "quantitative", "title": null, "scale": {"domain": [-0.567, 314.37], "nice": false, "zero": false}, "axis": {"title": null}},
  "y": {"field": "v", "type": "quantitative", "title": null, "scale": {"domain": [6351.79, 6532.37], "nice": false, "zero": false}, "axis": {"title": null}},
  "detail": {"field": "s", "type": "nominal"}}},
{"data": {"values": [{}]},
 "mark": {"type": "rect", "color": "#ffffff", "clip": false},
 "encoding": {
  "x": {"datum": 322.1, "type": "quantitative", "title": null, "scale": {"domain": [-0.567, 314.37], "nice": false, "zero": false}, "axis": {"title": null}},
  "x2": {"datum": 345},
  "y": {"datum": 6545, "type": "quantitative", "title": null, "scale": {"domain": [6351.79, 6532.37], "nice": false, "zero": false}, "axis": {"title": null}},
  "y2": {"datum": 6335}}},
{"data": {"name": "arrows"},
 "mark": {"type": "line", "strokeWidth": 4.5, "strokeDash": [12, 6], "clip": false},
 "encoding": {
  "x": {"field": "i", "type": "quantitative", "title": null, "scale": {"domain": [-0.567, 314.37], "nice": false, "zero": false}, "axis": {"title": null}},
  "y": {"field": "v", "type": "quantitative", "title": null, "scale": {"domain": [6351.79, 6532.37], "nice": false, "zero": false}, "axis": {"title": null}},
  "color": {"field": "a", "type": "nominal", "scale": {"domain": ["blue", "green", "red"], "range": ["#1e96f0", "#5cc648", "#e81919"]}, "legend": null},
  "detail": {"field": "a", "type": "nominal"}}},
{"data": {"name": "arrows"}, "transform": [{"filter": "datum.a == 'blue' && datum.p == 'end'"}],
 "mark": {"type": "point", "filled": true, "opacity": 1, "shape": "M0,0L0.95,1.7L0,1.25L-0.95,1.7Z", "size": 900, "angle": 171.75, "color": "#1e96f0", "clip": false},
 "encoding": {
  "x": {"field": "i", "type": "quantitative", "title": null, "scale": {"domain": [-0.567, 314.37], "nice": false, "zero": false}, "axis": {"title": null}},
  "y": {"field": "v", "type": "quantitative", "title": null, "scale": {"domain": [6351.79, 6532.37], "nice": false, "zero": false}, "axis": {"title": null}}}},
{"data": {"name": "arrows"}, "transform": [{"filter": "datum.a == 'green' && datum.p == 'end'"}],
 "mark": {"type": "point", "filled": true, "opacity": 1, "shape": "M0,0L0.95,1.7L0,1.25L-0.95,1.7Z", "size": 900, "angle": 17, "color": "#5cc648", "clip": false},
 "encoding": {
  "x": {"field": "i", "type": "quantitative", "title": null, "scale": {"domain": [-0.567, 314.37], "nice": false, "zero": false}, "axis": {"title": null}},
  "y": {"field": "v", "type": "quantitative", "title": null, "scale": {"domain": [6351.79, 6532.37], "nice": false, "zero": false}, "axis": {"title": null}}}},
{"data": {"name": "arrows"}, "transform": [{"filter": "datum.a == 'red' && datum.p == 'end'"}],
 "mark": {"type": "point", "filled": true, "opacity": 1, "shape": "M0,0L0.95,1.7L0,1.25L-0.95,1.7Z", "size": 900, "angle": 170.9, "color": "#e81919", "clip": false},
 "encoding": {
  "x": {"field": "i", "type": "quantitative", "title": null, "scale": {"domain": [-0.567, 314.37], "nice": false, "zero": false}, "axis": {"title": null}},
  "y": {"field": "v", "type": "quantitative", "title": null, "scale": {"domain": [6351.79, 6532.37], "nice": false, "zero": false}, "axis": {"title": null}}}},
{"data": {"name": "arrows"}, "transform": [{"filter": "datum.p == 'start' && datum.a != 'green'"}],
 "mark": {"type": "point", "filled": true, "opacity": 1, "shape": "circle", "size": 45, "clip": false},
 "encoding": {
  "x": {"field": "i", "type": "quantitative", "title": null, "scale": {"domain": [-0.567, 314.37], "nice": false, "zero": false}, "axis": {"title": null}},
  "y": {"field": "v", "type": "quantitative", "title": null, "scale": {"domain": [6351.79, 6532.37], "nice": false, "zero": false}, "axis": {"title": null}},
  "color": {"field": "a", "type": "nominal", "scale": {"domain": ["blue", "green", "red"], "range": ["#1e96f0", "#5cc648", "#e81919"]}, "legend": null}}}
]
}
